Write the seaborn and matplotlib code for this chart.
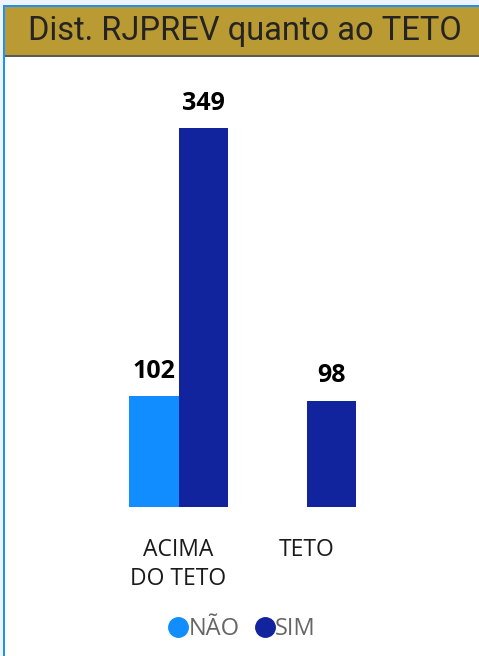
import matplotlib
matplotlib.use("Agg")
import matplotlib.pyplot as plt
from matplotlib.lines import Line2D
from matplotlib.patches import Rectangle
import seaborn as sns
import pandas as pd

categories = ["ACIMA\nDO TETO", "ACIMA\nDO TETO", "TETO"]
series = ["NÃO", "SIM", "SIM"]
values = [102, 349, 98]
hue_order = ["NÃO", "SIM"]
cat_order = ["ACIMA\nDO TETO", "TETO"]
colors = {"NÃO": "#118DFF", "SIM": "#12239E"}
title = "Dist. RJPREV quanto ao TETO"

df = pd.DataFrame({"cat": categories, "serie": series, "valor": values})

sns.set_style("white")
plt.rcParams["font.family"] = ["Open Sans", "DejaVu Sans"]

W, H = 479, 656
fig = plt.figure(figsize=(W / 100, H / 100), dpi=100)
fig.patch.set_facecolor("white")

def px_rect(x0, y0, x1, y1, color, z=0):
    fig.patches.append(Rectangle((x0 / W, 1 - y1 / H), (x1 - x0) / W, (y1 - y0) / H,
                                 transform=fig.transFigure, color=color, zorder=z, lw=0))

px_rect(0, 0, W, 5, "#EEF4FC")
px_rect(0, 0, 3, H, "#EEF4FC")
px_rect(3, 5, W, 7, "#1E8FFF")
px_rect(3, 5, 5, H, "#1E8FFF")
px_rect(5, 7, W, 55, "#BA9B33")
px_rect(5, 55, W, 57, "#5A5A5A")
fig.text(245 / W, 1 - 31 / H, title, ha="center", va="center",
         fontsize=23.5, color="#252423", family=["Roboto", "DejaVu Sans"], fontweight="normal")

L, R = 20, 460
top_px, base_px = 80, 507
ax = fig.add_axes([L / W, 1 - base_px / H, (R - L) / W, (base_px - top_px) / H])
sns.barplot(data=df, x="cat", y="valor", hue="serie", order=cat_order, hue_order=hue_order,
            palette=colors, width=0.766, saturation=1, ax=ax, legend=False, errorbar=None,
            linewidth=0, edgecolor="none")

scale = 379 / 349
ax.set_ylim(0, (base_px - top_px) / scale)
ax.set_xlim(-(178.5 - L) / 128, 1 + (R - 306.5) / 128)
for c in ax.containers:
    ax.bar_label(c, padding=9, fontsize=18, fontweight="bold", color="black")

ax.set_xlabel("")
ax.set_ylabel("")
ax.set_yticks([])
ax.tick_params(axis="x", length=0, pad=22, labelsize=16.5, labelcolor="#1a1a1a")
for t in ax.get_xticklabels():
    t.set_linespacing(1.3)
for s in ax.spines.values():
    s.set_visible(False)
ax.patch.set_alpha(0)

handles = [Line2D([0], [0], marker="o", color="none", markerfacecolor=colors[k],
                  markeredgecolor=colors[k], markersize=14, label=k) for k in hue_order]
fig.legend(handles=handles, loc="center", bbox_to_anchor=(238 / W, 1 - 629 / H), ncol=2,
           frameon=False, handletextpad=-0.3, columnspacing=0.3, handlelength=1.5,
           prop={"size": 17}, labelcolor="#666666")

fig.savefig("out.png", dpi=100)
